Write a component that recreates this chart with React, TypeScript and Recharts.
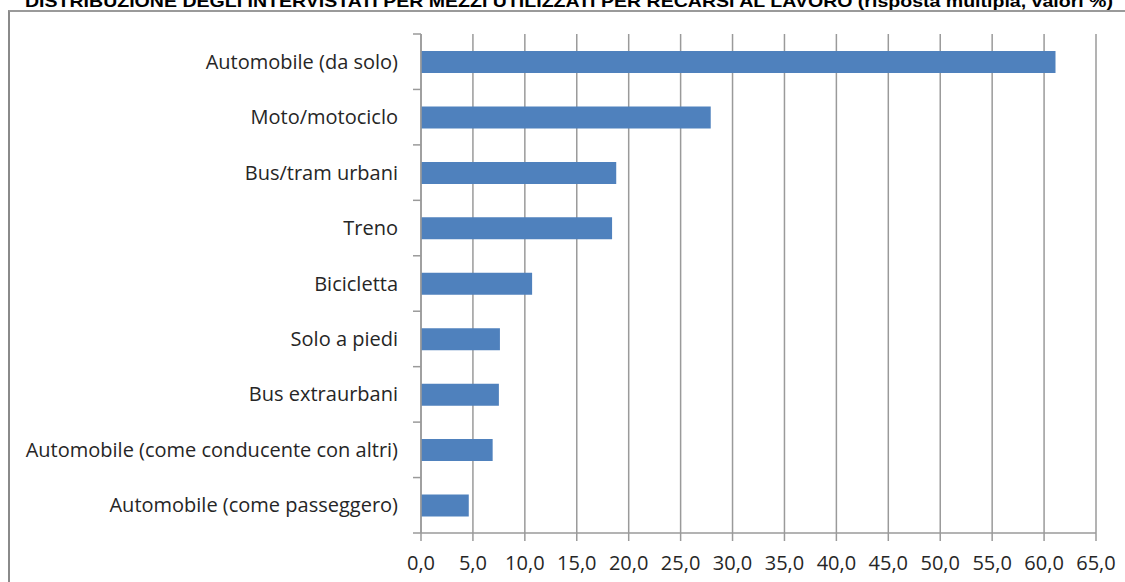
import { Bar, BarChart, CartesianGrid, XAxis, YAxis } from "recharts";

const TITLE =
  "DISTRIBUZIONE DEGLI INTERVISTATI PER MEZZI UTILIZZATI PER RECARSI AL LAVORO (risposta multipla, valori %)";

const categories = [
  "Automobile (da solo)",
  "Moto/motociclo",
  "Bus/tram urbani",
  "Treno",
  "Bicicletta",
  "Solo a piedi",
  "Bus extraurbani",
  "Automobile (come conducente con altri)",
  "Automobile (come passeggero)",
];
const values = [61.1, 27.9, 18.8, 18.4, 10.7, 7.6, 7.5, 6.9, 4.6];
const xTicks = [0, 5, 10, 15, 20, 25, 30, 35, 40, 45, 50, 55, 60, 65];

const data = categories.map((name, i) => ({ name, value: values[i] }));

const GRID = "#9a9a9a";
const TEXT = "#262626";
const FONT = "'Open Sans', Lato, sans-serif";
const TICK_SIZE = 8;
const TICK_MARGIN = 15;

function CategoryTick(props: any) {
  const { x, y, payload, index } = props;
  const axisX = x + TICK_SIZE + TICK_MARGIN;
  const half = payload?.offset ?? 0;
  return (
    <g>
      <line x1={axisX - TICK_SIZE} x2={axisX} y1={y + half} y2={y + half} stroke={GRID} strokeWidth={1.5} />
      {index === 0 && (
        <line x1={axisX - TICK_SIZE} x2={axisX} y1={y - half} y2={y - half} stroke={GRID} strokeWidth={1.5} />
      )}
      <text x={x} y={y} dy="0.35em" textAnchor="end" fill={TEXT} fontSize={20} fontFamily={FONT}>
        {payload.value}
      </text>
    </g>
  );
}

export default function App() {
  return (
    <div style={{ position: "absolute", left: 8, top: 0, width: 1117, height: 582, overflow: "hidden", background: "#fff" }}>
      <div
        style={{
          position: "absolute",
          left: 0,
          top: 10,
          width: 1200,
          height: 700,
          borderLeft: "2px solid #8a8a8a",
          borderTop: "2px solid #9a9a9a",
        }}
      />
      <svg width={1117} height={20} style={{ position: "absolute", left: 0, top: 0 }}>
        <text
          x={17}
          y={7}
          textLength={1088}
          lengthAdjust="spacingAndGlyphs"
          fontFamily="'Liberation Sans Narrow', 'Liberation Sans', Arial, sans-serif"
          fontWeight="bold"
          fontSize={17}
          fill="#000"
        >
          {TITLE}
        </text>
      </svg>
      <div style={{ position: "absolute", left: 0, top: 0 }}>
        <BarChart
          width={1117}
          height={582}
          data={data}
          layout="vertical"
          margin={{ top: 34, right: 29, bottom: 0, left: 0 }}
        >
          <CartesianGrid horizontal={false} stroke={GRID} strokeWidth={1.5} />
          <XAxis
            type="number"
            domain={[0, 65]}
            ticks={xTicks}
            interval={0}
            height={49}
            tickSize={8}
            tickMargin={15}
            axisLine={{ stroke: GRID, strokeWidth: 1.5 }}
            tickLine={{ stroke: GRID, strokeWidth: 1.5 }}
            tick={{ fill: TEXT, fontSize: 20, fontFamily: FONT }}
            tickFormatter={(v: number) => v.toFixed(1).replace(".", ",")}
          />
          <YAxis
            type="category"
            dataKey="name"
            width={413}
            interval={0}
            tickSize={TICK_SIZE}
            tickMargin={TICK_MARGIN}
            tickLine={false}
            axisLine={{ stroke: GRID, strokeWidth: 1.5 }}
            tick={<CategoryTick />}
          />
          <Bar dataKey="value" fill="#4f81bd" barSize={22} isAnimationActive={false} />
        </BarChart>
      </div>
    </div>
  );
}
